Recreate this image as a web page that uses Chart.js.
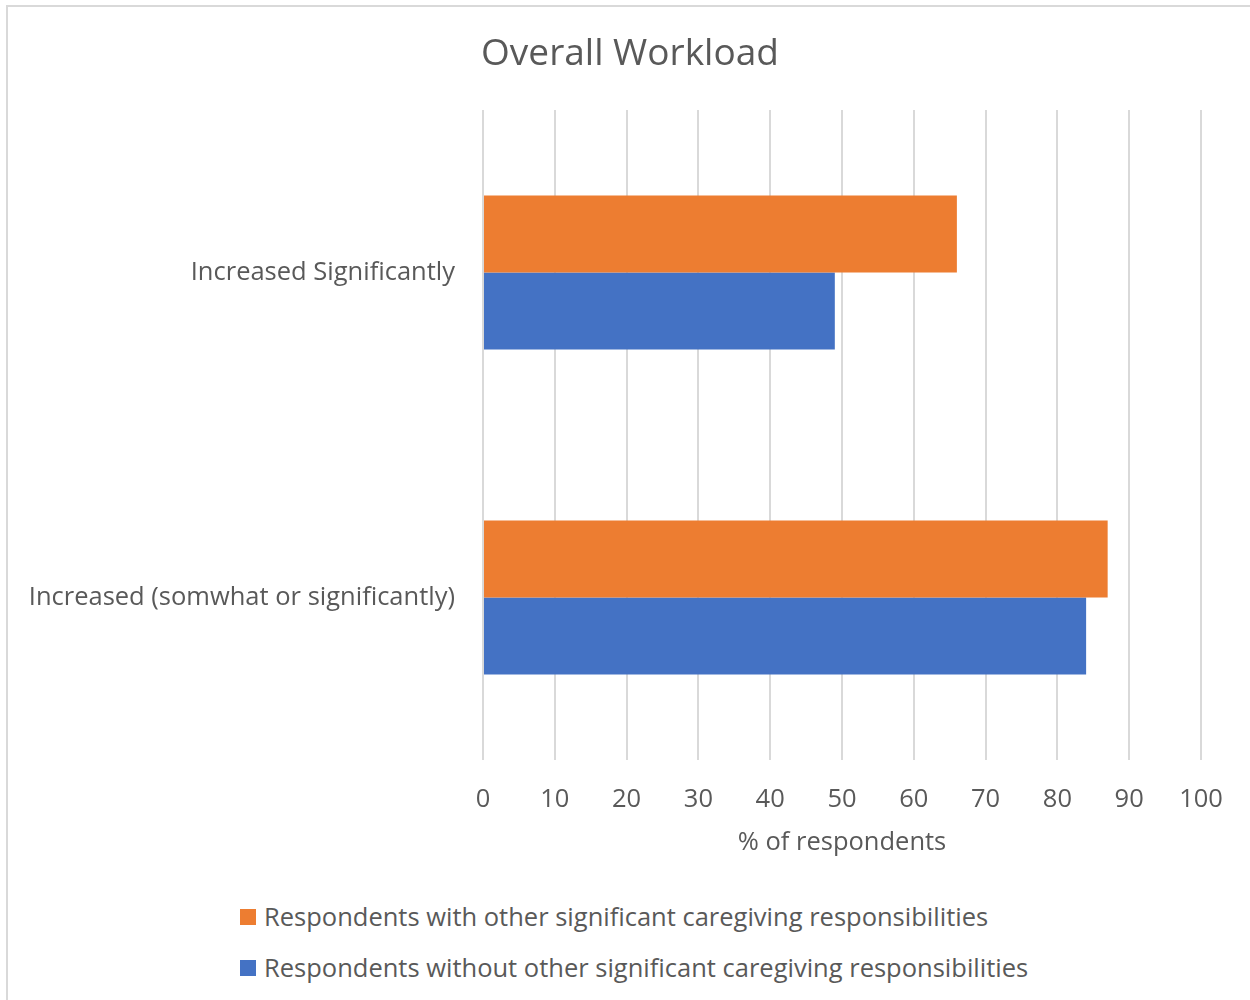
<!DOCTYPE html>
<html>
<head>
<meta charset="utf-8">
<script src="https://cdn.jsdelivr.net/npm/chart.js@4/dist/chart.umd.min.js"></script>
<style>
  body { margin: 0; background: #fff; font-family: "Open Sans", sans-serif; overflow: hidden; }
  #frame { position: absolute; left: 6px; top: 5px; width: 1244px; height: 993px;
           border-top: 2px solid #d9d9d9; border-left: 2px solid #d9d9d9; }
  #wrap { position: absolute; left: 0; top: 0; width: 1250px; height: 860px; }
  #naslov { position: absolute; left: 330px; width: 600px; top: 26px; text-align: center;
            font-size: 37px; line-height: 50px; color: #595959; }
  #legenda { position: absolute; left: 240px; top: 898px; color: #595959; font-size: 25.5px; }
  .stavka { height: 51px; line-height: 36px; display: flex; align-items: flex-start; }
  .kvadrat { width: 16px; height: 16px; margin: 11px 8px 0 0; }
</style>
</head>
<body>
<div id="frame"></div>
<div id="wrap"><canvas id="grafikon"></canvas></div>
<div id="naslov">Overall Workload</div>
<div id="legenda"></div>
<script>
const kategorije = ['Increased Significantly', 'Increased (somwhat or significantly)'];
const sNjegom = [66, 87];
const bezNjege = [49, 84];
const serije = [
    'Respondents with other significant caregiving responsibilities',
    'Respondents without other significant caregiving responsibilities'
];
const boje = ['#ed7d31', '#4472c4'];
const siva = '#595959';
const slova = 25.5;

const ctx = document.getElementById('grafikon').getContext('2d');
const grafikon = new Chart(ctx, {
    type: 'bar',
    data: {
        labels: kategorije,
        datasets: [
            { label: serije[0], data: sNjegom, backgroundColor: boje[0] },
            { label: serije[1], data: bezNjege, backgroundColor: boje[1] }
        ]
    },
    options: {
        indexAxis: 'y',
        responsive: true,
        maintainAspectRatio: false,
        animation: false,
        datasets: { bar: { barPercentage: 1, categoryPercentage: 0.474 } },
        layout: { padding: { left: 0, right: 49, top: 110, bottom: 0 } },
        plugins: {
            legend: { display: false },
            tooltip: { enabled: false },
            title: { display: false }
        },
        scales: {
            x: {
                min: 0, max: 100,
                ticks: { stepSize: 10, color: siva, padding: 24,
                         font: { family: 'Open Sans', size: slova } },
                grid: { color: '#d9d9d9', lineWidth: 2, drawTicks: false },
                border: { display: false },
                title: { display: true, text: '% of respondents', color: siva,
                         font: { family: 'Open Sans', size: slova },
                         padding: { top: 15, bottom: 2 } },
                afterFit: s => { s.height = 100; }
            },
            y: {
                ticks: { color: siva, padding: 20,
                         font: { family: 'Open Sans', size: slova } },
                grid: { display: false },
                border: { display: false },
                afterFit: s => { s.width = 483; }
            }
        }
    }
});

const legenda = document.getElementById('legenda');
serije.forEach((naziv, i) => {
    const red = document.createElement('div');
    red.className = 'stavka';
    red.innerHTML = `<span class="kvadrat" style="background:${boje[i]}"></span><span>${naziv}</span>`;
    legenda.appendChild(red);
});
</script>
</body>
</html>
